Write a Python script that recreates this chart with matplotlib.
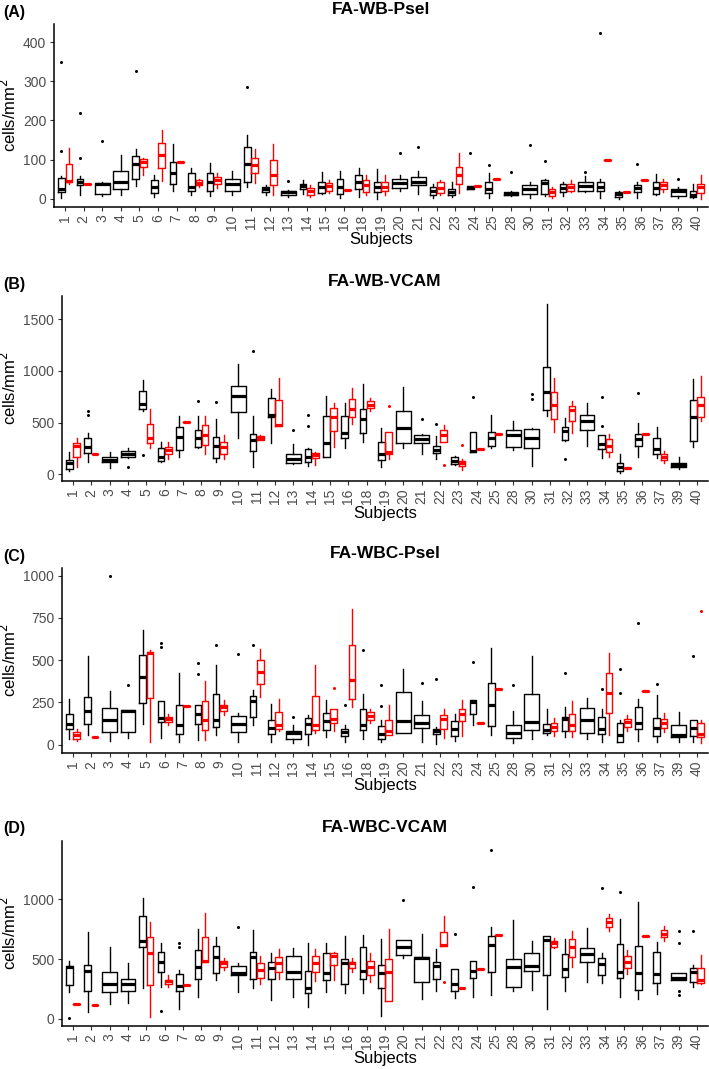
import matplotlib.pyplot as plt

plt.rcParams['font.family'] = ['Liberation Sans', 'DejaVu Sans']

subjects = ['1', '2', '3', '4', '5', '6', '7', '8', '9', '10', '11', '12', '13', '14', '15', '16',
            '18', '19', '20', '21', '22', '23', '24', '25', '28', '30', '31', '32', '33', '34',
            '35', '36', '37', '39', '40']

# each box: (whisker low, q1, median, q3, whisker high); None = subject has no red group
wb_psel_black = [
    (2, 17, 25, 52, 58), (10, 34, 44, 51, 58), (6, 13, 38, 40, 42), (10, 24, 44, 72, 112),
    (32, 51, 88, 108, 126), (4, 14, 30, 47, 60), (19, 37, 66, 94, 139), (9, 19, 30, 66, 78),
    (7, 21, 44, 66, 92), (9, 21, 37, 51, 70), (30, 44, 88, 132, 163), (10, 17, 24, 31, 36),
    (4, 10, 17, 21, 23), (13, 26, 32, 38, 47), (13, 14, 30, 44, 68), (3, 13, 30, 51, 71),
    (4, 26, 43, 61, 78), (0, 17, 30, 43, 77), (19, 27, 40, 51, 60), (13, 34, 44, 55, 70),
    (3, 9, 21, 30, 38), (4, 9, 17, 26, 43), (24, 24, 28, 32, 32), (3, 14, 26, 43, 66),
    (8, 10, 13, 17, 20), (3, 13, 24, 34, 43), (7, 13, 40, 47, 50), (7, 17, 28, 38, 44),
    (17, 21, 32, 43, 57), (2, 19, 30, 43, 51), (0, 4, 11, 17, 20), (2, 17, 28, 34, 44),
    (9, 13, 27, 43, 64), (3, 7, 19, 24, 30), (2, 4, 9, 21, 38),
]
wb_psel_red = [
    (38, 44, 45, 89, 129), (37, 37, 37, 37, 37), None, None,
    (61, 81, 94, 102, 104), (46, 78, 112, 143, 176), (94, 94, 94, 94, 94), (29, 34, 41, 47, 51),
    (28, 37, 47, 55, 65), None, (41, 66, 85, 104, 126), (10, 36, 61, 100, 139),
    None, (4, 9, 21, 28, 34), (14, 21, 32, 40, 47), (23, 23, 23, 23, 23),
    (9, 17, 34, 47, 60), (9, 21, 30, 43, 60), None, None,
    (9, 14, 28, 43, 47), (14, 38, 60, 81, 117), (32, 32, 32, 32, 32), (51, 51, 51, 51, 51),
    None, None, (3, 7, 17, 26, 30), (17, 21, 30, 38, 47),
    None, (100, 100, 100, 100, 100), (17, 17, 17, 17, 17), (47, 47, 47, 47, 47),
    (17, 26, 34, 43, 51), None, (0, 15, 30, 38, 60),
]
wb_psel_out_black = {'1': [348, 122], '2': [218, 103], '3': [147], '5': [325], '11': [286],
                     '13': [46], '20': [118], '21': [131], '24': [118], '25': [85], '28': [68],
                     '30': [136], '31': [96], '33': [68], '34': [424], '36': [88], '39': [51]}
wb_psel_out_red = {}

wb_vcam_black = [
    (29, 49, 104, 137, 218), (114, 202, 267, 349, 397), (55, 114, 137, 163, 218), (160, 163, 195, 228, 257),
    (610, 630, 680, 800, 910), (114, 130, 169, 257, 316), (169, 235, 358, 453, 567), (257, 261, 349, 430, 560),
    (114, 160, 274, 355, 537), (350, 599, 756, 853, 1065), (72, 225, 332, 388, 567), (300, 550, 570, 733, 821),
    (94, 104, 143, 192, 296), (81, 120, 169, 244, 250), (169, 169, 306, 560, 756), (251, 349, 397, 567, 691),
    (316, 397, 537, 635, 870), (72, 137, 195, 316, 446), (251, 300, 446, 616, 844), (192, 300, 339, 381, 390),
    (147, 202, 235, 277, 365), (85, 94, 130, 169, 175), (215, 218, 222, 404, 410), (251, 277, 349, 404, 577),
    (235, 267, 375, 430, 511), (81, 251, 349, 440, 445), (560, 619, 798, 1033, 1645), (320, 332, 414, 456, 544),
    (274, 430, 511, 570, 684), (153, 241, 293, 375, 380), (16, 29, 72, 104, 195), (169, 277, 339, 391, 495),
    (153, 192, 241, 349, 456), (49, 65, 88, 104, 169), (267, 322, 550, 717, 919),
]
wb_vcam_red = [
    (72, 169, 277, 300, 349), (199, 199, 199, 199, 199), None, None,
    (251, 300, 349, 485, 632), (147, 195, 235, 267, 316), (505, 505, 505, 505, 505), (195, 283, 381, 472, 560),
    (147, 195, 261, 309, 381), None, (330, 332, 352, 371, 375), (463, 463, 479, 713, 935),
    None, (88, 153, 186, 208, 218), (261, 420, 550, 642, 691), (489, 554, 635, 730, 837),
    (609, 642, 674, 707, 733), (147, 195, 218, 404, 410), None, None,
    (310, 316, 381, 430, 472), (39, 78, 104, 130, 147), (241, 241, 241, 241, 241), (388, 388, 388, 388, 388),
    None, None, (404, 534, 674, 798, 928), (397, 511, 625, 658, 707),
    None, (169, 218, 277, 339, 388), (62, 62, 62, 62, 62), (391, 391, 391, 391, 391),
    (104, 137, 169, 195, 225), None, (511, 554, 674, 746, 951),
]
wb_vcam_out_black = {'2': [570, 616], '4': [65], '5': [186], '8': [707], '9': [700], '11': [1190],
                     '13': [425], '14': [576, 469], '21': [531], '22': [485], '24': [750],
                     '30': [772, 730], '32': [150], '34': [470, 750], '36': [790]}
wb_vcam_out_red = {'19': [664], '22': [90], '23': [283]}

wbc_psel_black = [
    (30, 93, 123, 179, 272), (54, 123, 198, 282, 524), (24, 73, 143, 216, 317), (40, 73, 200, 205, 205),
    (123, 248, 401, 530, 679), (38, 133, 157, 258, 258), (18, 63, 113, 232, 421), (28, 123, 179, 232, 232),
    (54, 103, 147, 298, 470), (18, 73, 119, 167, 187), (113, 163, 256, 288, 321), (18, 63, 99, 147, 238),
    (10, 30, 67, 79, 113), (0, 63, 123, 159, 173), (44, 89, 139, 187, 262), (18, 50, 73, 93, 113),
    (34, 87, 113, 212, 298), (18, 30, 63, 109, 143), (67, 67, 139, 312, 446), (18, 97, 129, 173, 256),
    (4, 63, 83, 93, 103), (24, 50, 93, 139, 183), (117, 183, 252, 266, 266), (58, 109, 232, 367, 573),
    (10, 38, 67, 117, 196), (34, 87, 133, 298, 526), (54, 67, 89, 123, 208), (44, 83, 153, 163, 222),
    (34, 67, 147, 218, 278), (14, 63, 93, 163, 208), (14, 18, 54, 127, 143), (24, 93, 129, 222, 272),
    (18, 50, 97, 157, 292), (18, 44, 54, 117, 192), (18, 50, 97, 147, 147),
]
wbc_psel_red = [
    (20, 34, 54, 73, 93), (46, 46, 46, 46, 46), None, None,
    (14, 276, 540, 550, 560), (113, 133, 153, 163, 183), (226, 226, 226, 226, 226), (28, 87, 147, 258, 375),
    (173, 198, 222, 236, 262), None, (282, 357, 431, 500, 569), (79, 93, 113, 192, 272),
    None, (67, 87, 113, 288, 470), (83, 129, 153, 208, 208), (222, 272, 381, 589, 804),
    (129, 147, 169, 192, 208), (58, 58, 79, 143, 232), None, None,
    (38, 93, 153, 173, 208), (50, 139, 183, 208, 266), (127, 127, 127, 127, 127), (327, 327, 327, 327, 327),
    None, None, (50, 79, 103, 129, 159), (44, 83, 117, 183, 256),
    None, (58, 187, 308, 421, 544), (83, 103, 133, 153, 173), (316, 316, 316, 316, 316),
    (77, 97, 129, 153, 188), None, (10, 44, 60, 127, 147),
]
wbc_psel_out_black = {'3': [996], '4': [351], '6': [600, 580], '8': [485, 420], '9': [590],
                      '10': [535], '11': [590], '13': [165], '16': [235], '18': [560],
                      '19': [351, 226], '21': [367], '22': [391], '24': [490], '28': [351],
                      '32': [421], '34': [331], '35': [446, 306], '36': [718], '37': [361], '40': [526]}
wbc_psel_out_red = {'15': [335], '40': [792]}

wbc_vcam_black = [
    (225, 282, 433, 441, 480), (56, 234, 403, 452, 729), (121, 225, 291, 395, 602), (136, 234, 291, 333, 466),
    (260, 600, 655, 860, 1014), (266, 393, 472, 556, 638), (82, 229, 271, 379, 407), (181, 331, 435, 576, 751),
    (322, 384, 514, 610, 684), (223, 364, 384, 441, 463), (257, 331, 520, 556, 740), (158, 336, 427, 472, 548),
    (181, 336, 393, 525, 596), (96, 218, 257, 398, 638), (223, 322, 384, 548, 638), (215, 288, 469, 500, 689),
    (218, 336, 398, 605, 703), (25, 257, 384, 449, 667), (506, 534, 599, 661, 661), (167, 308, 506, 520, 709),
    (237, 331, 441, 477, 582), (172, 237, 294, 415, 415), (186, 345, 398, 486, 486), (201, 393, 619, 689, 766),
    (229, 266, 435, 497, 825), (243, 401, 441, 554, 655), (82, 370, 661, 689, 695), (229, 350, 415, 542, 669),
    (308, 477, 540, 590, 760), (299, 370, 458, 511, 554), (186, 342, 393, 627, 839), (167, 243, 384, 610, 977),
    (209, 302, 373, 556, 647), (328, 328, 345, 384, 384), (266, 308, 393, 429, 449),
]
wbc_vcam_red = [
    (125, 125, 125, 125, 125), (115, 115, 115, 115, 115), None, None,
    (17, 285, 554, 681, 808), (266, 288, 314, 328, 364), (280, 280, 280, 280, 280), (477, 477, 486, 684, 887),
    (412, 435, 463, 483, 506), None, (294, 345, 407, 463, 525), (336, 393, 469, 520, 582),
    None, (316, 393, 469, 525, 582), (322, 449, 528, 548, 556), (393, 429, 463, 477, 506),
    (308, 370, 435, 486, 548), (153, 153, 393, 500, 754), None, None,
    (613, 613, 619, 726, 859), (260, 260, 260, 260, 260), (421, 421, 421, 421, 421), (703, 703, 703, 703, 703),
    None, None, (590, 605, 633, 655, 675), (435, 520, 599, 664, 737),
    None, (732, 768, 808, 845, 881), (379, 429, 477, 528, 576), (689, 689, 689, 689, 689),
    (653, 684, 712, 740, 780), None, (294, 299, 328, 429, 534),
]
wbc_vcam_out_black = {'1': [10], '6': [68], '7': [633, 605], '10': [768], '20': [994], '23': [712],
                      '24': [1099], '25': [1415], '34': [1093], '35': [1065],
                      '39': [732, 633, 237, 203], '40': [732]}
wbc_vcam_out_red = {'22': [308]}

W, H = 709, 1069
fig = plt.figure(figsize=(W / 100, H / 100), dpi=100)


def draw_panel(left, top, bottom, black, red, out_black, out_red, ylim, yticks, title, tag):
    ax = fig.add_axes([left / W, 1 - bottom / H, (708 - left) / W, (bottom - top) / H])
    for i, subj in enumerate(subjects):
        if red[i] is None:
            groups = [(black[i], i, 0.8, 'black', out_black.get(subj, []))]
        else:
            groups = [(black[i], i - 0.2, 0.36, 'black', out_black.get(subj, [])),
                      (red[i], i + 0.2, 0.36, 'red', out_red.get(subj, []))]
        for vals, pos, w, col, fl in groups:
            lo, q1, med, q3, hi = vals
            st = dict(whislo=lo, q1=q1, med=med, q3=q3, whishi=hi, fliers=fl)
            ax.bxp([st], positions=[pos], widths=w, showcaps=False, manage_ticks=False,
                   boxprops=dict(color=col, linewidth=1.0),
                   whiskerprops=dict(color=col, linewidth=1.0),
                   medianprops=dict(color=col, linewidth=2.3, solid_capstyle='butt'),
                   flierprops=dict(marker='o', markersize=2.2, markerfacecolor=col,
                                   markeredgecolor='none'))
    ax.set_xlim(-0.6, len(subjects) - 0.4)
    ax.set_ylim(*ylim)
    ax.set_yticks(yticks)
    ax.set_xticks(range(len(subjects)))
    ax.set_xticklabels(subjects, rotation=90)
    ax.tick_params(axis='both', labelsize=10, labelcolor='#4d4d4d', color='#333333',
                   length=3, width=0.8, pad=2.5)
    for s in ['top', 'right']:
        ax.spines[s].set_visible(False)
    for s in ['left', 'bottom']:
        ax.spines[s].set_linewidth(1.1)
    ax.set_xlabel('Subjects', fontsize=12, labelpad=1)
    ax.set_ylabel('cells/mm$^2$', fontsize=12, labelpad=3)
    cx = (left + 708) / 2
    fig.text(cx / W, 1 - (top - 14) / H, title, fontsize=12.5, fontweight='bold',
             ha='center', va='center')
    fig.text(3 / W, 1 - (top - 12) / H, tag, fontsize=11.5, fontweight='bold',
             ha='left', va='center')
    return ax


draw_panel(54, 24, 207, wb_psel_black, wb_psel_red, wb_psel_out_black, wb_psel_out_red,
           (-21, 446), [0, 100, 200, 300, 400], 'FA-WB-Psel', '(A)')
draw_panel(62, 296, 481, wb_vcam_black, wb_vcam_red, wb_vcam_out_black, wb_vcam_out_red,
           (-66, 1724), [0, 500, 1000, 1500], 'FA-WB-VCAM', '(B)')
draw_panel(62, 568, 753, wbc_psel_black, wbc_psel_red, wbc_psel_out_black, wbc_psel_out_red,
           (-50, 1046), [0, 250, 500, 750, 1000], 'FA-WBC-Psel', '(C)')
draw_panel(62, 841, 1026, wbc_vcam_black, wbc_vcam_red, wbc_vcam_out_black, wbc_vcam_out_red,
           (-60, 1488), [0, 500, 1000], 'FA-WBC-VCAM', '(D)')

fig.savefig('out.png', dpi=100)
